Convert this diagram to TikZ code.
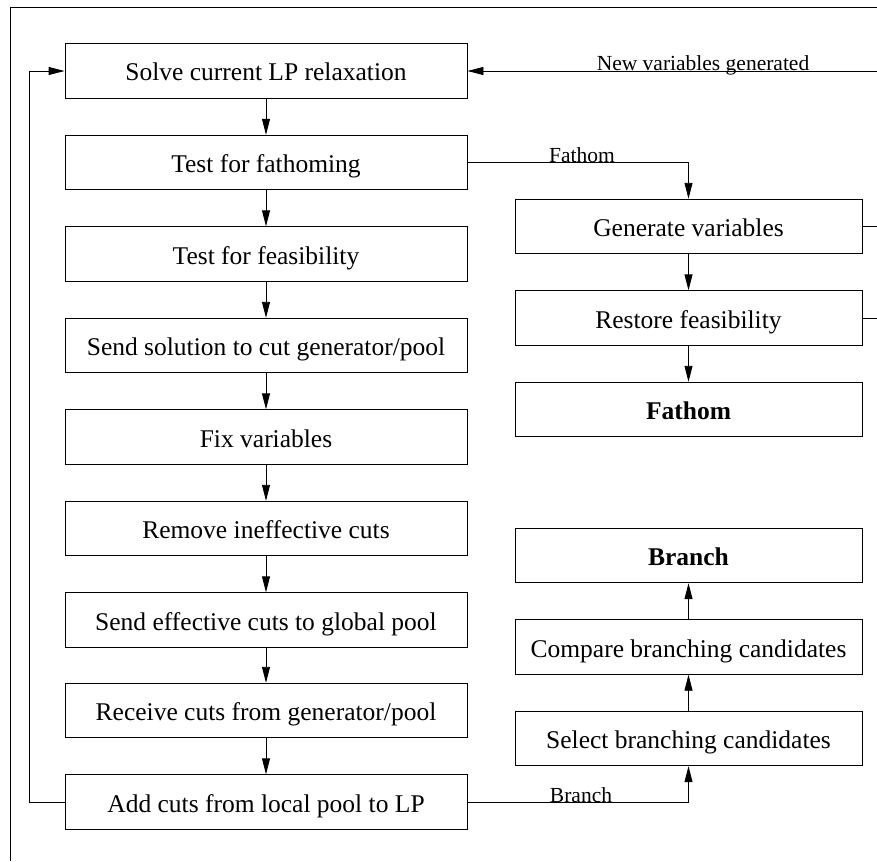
\documentclass[tikz,border=0pt]{standalone}
\usepackage{fontspec}
\setmainfont{Liberation Serif}
\usetikzlibrary{arrows.meta}
\begin{document}
\begin{tikzpicture}[x=1pt,y=-1pt,
  box/.style={draw, line width=0.9pt, rectangle, inner sep=0pt, text height=22pt, text depth=2pt, font=\fontsize{25.5}{30}\selectfont},
  lbox/.style={box, minimum width=402pt, minimum height=54.5pt},
  rbox/.style={box, minimum width=347pt, minimum height=54.5pt},
  lab/.style={inner sep=0pt, anchor=base, font=\fontsize{21.5}{25}\selectfont},
  conn/.style={line width=0.9pt},
  arr/.style={conn, -{Triangle[length=16pt,width=8pt]}}]
\useasboundingbox (0,0) rectangle (877,861);
% frame
\draw[line width=0.9pt] (10.5,861) -- (10.5,7) -- (877,7);
% left column
\node[lbox] (s1) at (266,71) {Solve current LP relaxation};
\node[lbox] (s2) at (266,162.5) {Test for fathoming};
\node[lbox] (s3) at (266,254) {Test for feasibility};
\node[lbox] (s4) at (266,345.5) {Send solution to cut generator/pool};
\node[lbox] (s5) at (266,437) {Fix variables};
\node[lbox] (s6) at (266,528.5) {Remove ineffective cuts};
\node[lbox] (s7) at (266,620) {Send effective cuts to global pool};
\node[lbox] (s8) at (266,710.5) {Receive cuts from generator/pool};
\node[lbox] (s9) at (266,802) {Add cuts from local pool to LP};
% right column
\node[rbox] (gen) at (688.5,226.5) {Generate variables};
\node[rbox] (res) at (688.5,318) {Restore feasibility};
\node[rbox] (fat) at (688.5,409.5) {\bfseries Fathom};
\node[rbox] (br) at (688.5,555.5) {\bfseries Branch};
\node[rbox] (cmp) at (688.5,647) {Compare branching candidates};
\node[rbox] (sel) at (688.5,738.5) {Select branching candidates};
% left chain
\draw[arr] (s1) -- (s2);
\draw[arr] (s2) -- (s3);
\draw[arr] (s3) -- (s4);
\draw[arr] (s4) -- (s5);
\draw[arr] (s5) -- (s6);
\draw[arr] (s6) -- (s7);
\draw[arr] (s7) -- (s8);
\draw[arr] (s8) -- (s9);
% feedback loop
\coordinate (fb) at (29,802);
\draw[arr] (s9.west) -- (fb) |- (s1.west);
% right chains
\draw[arr] (gen) -- (res);
\draw[arr] (res) -- (fat);
\draw[arr] (sel) -- (cmp);
\draw[arr] (cmp) -- (br);
% fathom branch
\draw[arr] (s2.east) -| (gen.north);
\node[lab] (lfat) at (582,162.5) {Fathom};
% branch
\draw[arr] (s9.east) -| (sel.south);
\node[lab] (lbr) at (581,802) {Branch};
% new variables generated
\coordinate (nvR) at (877,71);
\draw[arr] (nvR) -- (s1.east);
\node[lab] (lnv) at (703,71) {New variables generated};
\coordinate (genR) at (877,226.5);
\coordinate (resR) at (877,318);
\draw[conn] (gen.east) -- (genR);
\draw[conn] (res.east) -- (resR);
\end{tikzpicture}
\end{document}
